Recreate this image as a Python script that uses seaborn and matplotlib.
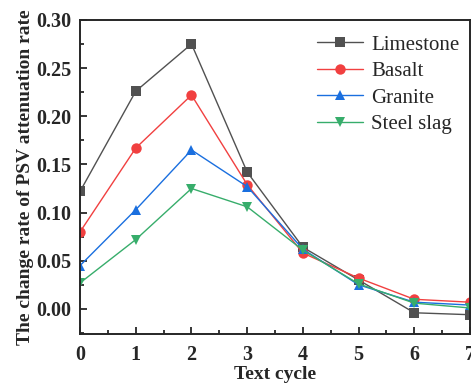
import numpy as np
import pandas as pd
import seaborn as sns
import matplotlib.pyplot as plt
from matplotlib.ticker import MultipleLocator

# values
cycles = [0, 1, 2, 3, 4, 5, 6, 7]
limestone = [0.122, 0.226, 0.275, 0.142, 0.064, 0.030, -0.004, -0.006]
basalt = [0.080, 0.167, 0.222, 0.129, 0.058, 0.032, 0.010, 0.007]
granite = [0.045, 0.103, 0.165, 0.127, 0.062, 0.025, 0.007, 0.004]
steel_slag = [0.027, 0.072, 0.125, 0.106, 0.061, 0.026, 0.006, 0.001]

names = ["Limestone", "Basalt", "Granite", "Steel slag"]
series = [limestone, basalt, granite, steel_slag]
colors = ["#515151", "#F14040", "#1A6FDF", "#37AD6B"]
marks = ["s", "o", "^", "v"]

df = pd.concat([pd.DataFrame({"cycle": cycles, "rate": v, "material": n})
                for n, v in zip(names, series)], ignore_index=True)

sns.set_style("ticks")
plt.rcParams['font.family'] = ['Liberation Serif', 'DejaVu Serif']

fig = plt.figure(figsize=(4.71, 3.83), dpi=100)
ax = fig.add_axes([0.170, 0.128, 0.828, 0.820])

sns.lineplot(data=df, x="cycle", y="rate", hue="material", style="material",
             palette=dict(zip(names, colors)), markers=dict(zip(names, marks)),
             dashes=False, markersize=7.5, linewidth=1.0,
             markeredgewidth=0, ax=ax)

ax.set_xlim(0, 7)
ax.set_ylim(-0.026, 0.30)
ax.xaxis.set_major_locator(MultipleLocator(1))
ax.xaxis.set_minor_locator(MultipleLocator(0.5))
ax.yaxis.set_major_locator(MultipleLocator(0.05))
ax.yaxis.set_minor_locator(MultipleLocator(0.025))
ax.yaxis.set_major_formatter(plt.FormatStrFormatter('%.2f'))
ax.tick_params(which='both', direction='in', width=1.3, top=False, right=False)
ax.tick_params(which='major', length=5, labelsize=14.5, pad=6)
ax.tick_params(axis='x', which='major', pad=8)
ax.tick_params(which='minor', length=3)
for lab in ax.get_xticklabels() + ax.get_yticklabels():
    lab.set_fontweight('bold')
for sp in ax.spines.values():
    sp.set_linewidth(1.4)
    sp.set_visible(True)

ax.set_xlabel("Text cycle", fontsize=14, fontweight='bold', labelpad=1)
ax.set_ylabel("The change rate of PSV attenuation rate", fontsize=14,
              fontweight='bold', labelpad=2)

ax.legend(loc='upper right', bbox_to_anchor=(1.01, 0.998), frameon=False,
          fontsize=15, handlelength=2.2, handletextpad=0.4,
          labelspacing=0.33, borderaxespad=0.3)

fig.savefig("out.png", dpi=100)
